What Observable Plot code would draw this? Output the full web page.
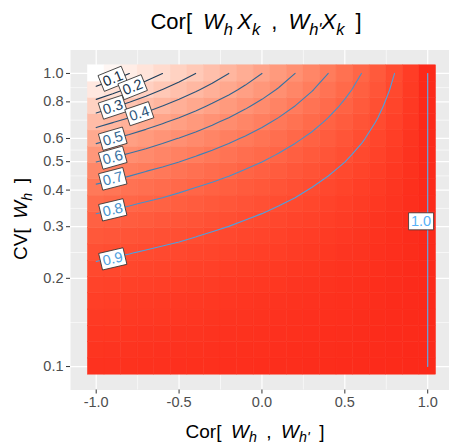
<!DOCTYPE html>
<html><head><meta charset="utf-8">
<script src="https://cdn.jsdelivr.net/npm/d3@7"></script>
<script src="https://cdn.jsdelivr.net/npm/@observablehq/plot@0.6"></script>
<style>
html,body{margin:0;padding:0;background:#fff;}
#chart{width:449px;height:445px;overflow:hidden;}
</style></head><body><div id="chart"></div>
<script>
// ---- data ----
const rho = [-1.0,-0.9,-0.8,-0.7,-0.6,-0.5,-0.4,-0.3,-0.2,-0.1,0.0,0.1,0.2,0.3,0.4,0.5,0.6,0.7,0.8,0.9,1.0];
const cv = [0.1,0.1136,0.1292,0.1468,0.1668,0.1896,0.2154,0.2448,0.2783,0.3162,0.3594,0.4084,0.4642,0.5275,0.5995,0.6813,0.7743,0.8799,1.0];
// correlation values, one row per CV (bottom to top), one column per rho
const z = [
[0.980,0.981,0.982,0.983,0.984,0.985,0.986,0.987,0.988,0.989,0.990,0.991,0.992,0.993,0.994,0.995,0.996,0.997,0.998,0.999,1],
[0.974,0.976,0.977,0.978,0.980,0.981,0.982,0.983,0.985,0.986,0.987,0.989,0.990,0.991,0.992,0.994,0.995,0.996,0.997,0.999,1],
[0.967,0.969,0.970,0.972,0.974,0.975,0.977,0.979,0.980,0.982,0.984,0.985,0.987,0.989,0.990,0.992,0.993,0.995,0.997,0.998,1],
[0.958,0.960,0.962,0.964,0.966,0.968,0.970,0.973,0.975,0.977,0.979,0.981,0.983,0.985,0.987,0.989,0.992,0.994,0.996,0.998,1],
[0.946,0.949,0.951,0.954,0.957,0.959,0.962,0.965,0.968,0.970,0.973,0.976,0.978,0.981,0.984,0.986,0.989,0.992,0.995,0.997,1],
[0.931,0.934,0.938,0.941,0.944,0.948,0.951,0.955,0.958,0.962,0.965,0.969,0.972,0.976,0.979,0.983,0.986,0.990,0.993,0.997,1],
[0.911,0.916,0.920,0.925,0.929,0.933,0.938,0.942,0.947,0.951,0.956,0.960,0.965,0.969,0.973,0.978,0.982,0.987,0.991,0.996,1],
[0.887,0.893,0.898,0.904,0.910,0.915,0.921,0.926,0.932,0.938,0.943,0.949,0.955,0.960,0.966,0.972,0.977,0.983,0.989,0.994,1],
[0.856,0.863,0.871,0.878,0.885,0.892,0.899,0.907,0.914,0.921,0.928,0.935,0.943,0.950,0.957,0.964,0.971,0.978,0.986,0.993,1],
[0.818,0.827,0.836,0.845,0.855,0.864,0.873,0.882,0.891,0.900,0.909,0.918,0.927,0.936,0.945,0.955,0.964,0.973,0.982,0.991,1],
[0.771,0.783,0.794,0.806,0.817,0.828,0.840,0.851,0.863,0.874,0.886,0.897,0.908,0.920,0.931,0.943,0.954,0.966,0.977,0.989,1],
[0.714,0.728,0.743,0.757,0.771,0.786,0.7999,0.814,0.828,0.843,0.857,0.871,0.886,0.8999,0.914,0.929,0.943,0.957,0.971,0.986,1],
[0.645,0.663,0.681,0.699,0.716,0.734,0.752,0.770,0.787,0.805,0.823,0.840,0.858,0.876,0.894,0.911,0.929,0.947,0.965,0.982,1],
[0.565,0.586,0.608,0.630,0.652,0.673,0.695,0.717,0.739,0.761,0.782,0.804,0.826,0.848,0.869,0.891,0.913,0.935,0.956,0.978,1],
[0.471,0.498,0.524,0.551,0.577,0.603,0.630,0.656,0.683,0.709,0.736,0.762,0.789,0.815,0.841,0.868,0.894,0.921,0.947,0.974,1],
[0.366,0.398,0.429,0.461,0.493,0.524,0.556,0.588,0.620,0.651,0.683,0.715,0.746,0.778,0.810,0.841,0.873,0.905,0.937,0.968,1],
[0.250,0.288,0.325,0.363,0.4003,0.438,0.475,0.513,0.550,0.588,0.625,0.663,0.7002,0.738,0.775,0.813,0.850,0.888,0.925,0.963,1],
[0.127,0.171,0.215,0.258,0.302,0.345,0.389,0.433,0.476,0.520,0.564,0.607,0.651,0.695,0.738,0.782,0.825,0.869,0.913,0.956,1],
[0,0.05,0.10,0.15,0.20,0.25,0.30,0.35,0.40,0.45,0.50,0.55,0.60,0.65,0.70,0.75,0.80,0.85,0.90,0.95,1]
];
const levels = [0.1,0.2,0.3,0.4,0.5,0.6,0.7,0.8,0.9,1.0];
const labelText = ["0.1","0.2","0.3","0.4","0.5","0.6","0.7","0.8","0.9","1.0"];
const labelRho = [-0.90,-0.78,-0.90,-0.74,-0.90,-0.90,-0.90,-0.90,-0.90,0.96];
const labelCV = [0.959,0.898,0.767,0.729,0.599,0.516,0.437,0.3425,0.233,0.313];
const xTicks = [-1.0,-0.5,0.0,0.5,1.0];
const xMinor = [-0.75,-0.25,0.25,0.75];
const yTicks = [0.1,0.2,0.3,0.4,0.5,0.6,0.8,1.0];

// ---- layout ----
const W = 449, H = 445;
const xDomain = [-1.155, 1.155], xRange = [70, 452.9];
const yDomain = [Math.pow(10,-1.08), Math.pow(10,0.08)], yRange = [389.5, 49.5];
const FONT = "'Liberation Sans', Arial, Helvetica, sans-serif";

// cells (edges halfway between neighbouring grid values; geometric for log CV)
const nx = rho.length, ny = cv.length;
function edgesLin(a){ const e=[a[0]-(a[1]-a[0])/2]; for(let i=1;i<a.length;i++) e.push((a[i-1]+a[i])/2); e.push(a[a.length-1]+(a[a.length-1]-a[a.length-2])/2); return e; }
function edgesLog(a){ return edgesLin(a.map(Math.log10)).map(v=>Math.pow(10,v)); }
const xe = edgesLin(rho), ye = edgesLog(cv);
const cells = [];
for (let j=0;j<ny;j++) for (let i=0;i<nx;i++) cells.push({x1:xe[i],x2:xe[i+1],y1:ye[j],y2:ye[j+1],z:z[j][i]});

// contour lines from the grid (d3.contours), mapped to data space
const flat = z.flat();
const logcv = cv.map(Math.log10);
function gx(u){ const p=u-0.5; const i=Math.max(0,Math.min(nx-2,Math.floor(p))); return rho[i]+(p-i)*(rho[i+1]-rho[i]); }
function gy(v){ const p=v-0.5; const j=Math.max(0,Math.min(ny-2,Math.floor(p))); return Math.pow(10, logcv[j]+(p-j)*(logcv[j+1]-logcv[j])); }
const eps = 0.25;
const inside = ([u,v]) => u>eps && u<nx-eps && v>eps && v<ny-eps;
const contourLines = {};
levels.forEach(level => {
  const geo = d3.contours().size([nx,ny]).thresholds([level])(flat)[0];
  const segs = [];
  geo.coordinates.forEach(poly => poly.forEach(ring => {
    let pts = ring.slice(0,-1);
    const b = pts.findIndex(p => !inside(p));
    if (b < 0) { segs.push(ring); return; }
    pts = pts.slice(b).concat(pts.slice(0,b));
    let cur = [];
    for (const p of pts) { if (inside(p)) cur.push(p); else { if (cur.length>1) segs.push(cur); cur=[]; } }
    if (cur.length>1) segs.push(cur);
  }));
  contourLines[level] = segs.map(s => s.map(([u,v]) => ({x:gx(u), y:gy(v)})));
});

const lineColor = d3.scaleLinear().domain([0.1,1.0]).range(["#132B43","#56B1F7"]).interpolate(d3.interpolateLab);

const sx = Plot.scale({x:{domain:xDomain, range:xRange}});
const sy = Plot.scale({y:{type:"log", domain:yDomain, range:yRange}});
const labels = levels.map((lv,k) => {
  const px = sx.apply(labelRho[k]), py = sy.apply(labelCV[k]);
  let best = Infinity, ang = 0;
  for (const line of contourLines[lv]) for (let i=1;i<line.length;i++) {
    const ax=sx.apply(line[i-1].x), ay=sy.apply(line[i-1].y), bx=sx.apply(line[i].x), by=sy.apply(line[i].y);
    const d = Math.hypot((ax+bx)/2-px,(ay+by)/2-py);
    if (d<best){ best=d; ang=Math.atan2(by-ay,bx-ax)*180/Math.PI; }
  }
  if (ang>90) ang-=180; if (ang<-90) ang+=180;
  if (Math.abs(ang)>60) ang = 0;
  return {level:lv, text:labelText[k], x:labelRho[k], y:labelCV[k], angle:ang};
});

const boxSymbol = { draw(ctx){ ctx.moveTo(-12.5,-8.5); ctx.lineTo(12.5,-8.5); ctx.lineTo(12.5,8.5); ctx.lineTo(-12.5,8.5); ctx.closePath(); } };

const marks = [
  Plot.frame({fill:"#EBEBEB", stroke:null}),
  Plot.ruleX(xMinor, {stroke:"white", strokeWidth:0.6}),
  Plot.ruleY(d3.pairs(yTicks).map(([a,b])=>Math.sqrt(a*b)), {stroke:"white", strokeWidth:0.6}),
  Plot.ruleX(xTicks, {stroke:"white", strokeWidth:1.2}),
  Plot.ruleY(yTicks, {stroke:"white", strokeWidth:1.2}),
  Plot.rect(cells, {x1:"x1", x2:"x2", y1:"y1", y2:"y2", fill:"z", stroke:"z", strokeWidth:0.5}),
];
levels.forEach(lv => {
  const pts = [];
  contourLines[lv].forEach((line,id) => line.forEach(p => pts.push({...p, id})));
  marks.push(Plot.line(pts, {x:"x", y:"y", z:"id", stroke:lineColor(lv), strokeWidth:1.1, curve:"linear"}));
});
marks.push(Plot.dot(labels, {x:"x", y:"y", rotate:"angle", symbol:boxSymbol, r:5, fill:"white", stroke:"#333333", strokeWidth:0.8}));
labels.forEach(l => marks.push(Plot.text([l], {x:"x", y:"y", text:"text", rotate:"angle", fill:lineColor(l.level), fontSize:14.5, fontFamily:FONT, textAnchor:"middle", lineAnchor:"middle"})));
marks.push(
  Plot.axisX(xTicks, {tickFormat:d=>d.toFixed(1), tickSize:4, tickPadding:3, fontSize:14.5, stroke:"#333333", fill:"#4D4D4D", label:null}),
  Plot.axisY(yTicks, {tickFormat:d=>d.toFixed(1), tickSize:4, tickPadding:3, fontSize:14.5, stroke:"#333333", fill:"#4D4D4D", label:null})
);

const svg = Plot.plot({
  width:W, height:H, marginLeft:70, marginRight:0, marginTop:49.5, marginBottom:55.5,
  style:{fontFamily:FONT, background:"white"},
  x:{domain:xDomain, range:xRange},
  y:{type:"log", domain:yDomain, range:yRange},
  color:{type:"linear", domain:[0,1], range:["#FFFFFF","#FC2A1A"], interpolate:"lab"},
  marks
});
document.getElementById("chart").appendChild(svg);

// rich-text titles (italic symbols with subscripts)
const EN = "\u2002", TH = "\u2009";
function richText(parts, {x, y, size, rotate=0}) {
  const t = d3.select(svg).append("text")
    .attr("transform", `translate(${x},${y}) rotate(${rotate})`)
    .attr("text-anchor","middle").attr("font-size", size).attr("fill","black")
    .attr("font-family", FONT).style("white-space","pre");
  let shift = 0;
  parts.forEach(p => {
    const ts = t.append("tspan").text(p.t);
    if (p.i) ts.attr("font-style","italic");
    const target = p.sub ? size*0.25 : 0;
    if (target !== shift) { ts.attr("dy", target - shift); shift = target; }
    if (p.sub) ts.attr("font-size", size*0.75);
  });
}
richText([{t:"Cor["+EN},{t:"W",i:1},{t:"h",i:1,sub:1},{t:TH},{t:"X",i:1},{t:"k",i:1,sub:1},{t:EN+","+EN},{t:"W",i:1},{t:"h'",i:1,sub:1},{t:"X",i:1},{t:"k",i:1,sub:1},{t:EN+"]"}], {x:256, y:29, size:22});
richText([{t:"Cor["+EN},{t:"W",i:1},{t:"h",i:1,sub:1},{t:EN+","+EN},{t:"W",i:1},{t:"h'",i:1,sub:1},{t:EN+"]"}], {x:255, y:437.5, size:19});
richText([{t:"CV["+EN},{t:"W",i:1},{t:"h",i:1,sub:1},{t:EN+"]"}], {x:27, y:219, size:19, rotate:-90});
</script></body></html>
